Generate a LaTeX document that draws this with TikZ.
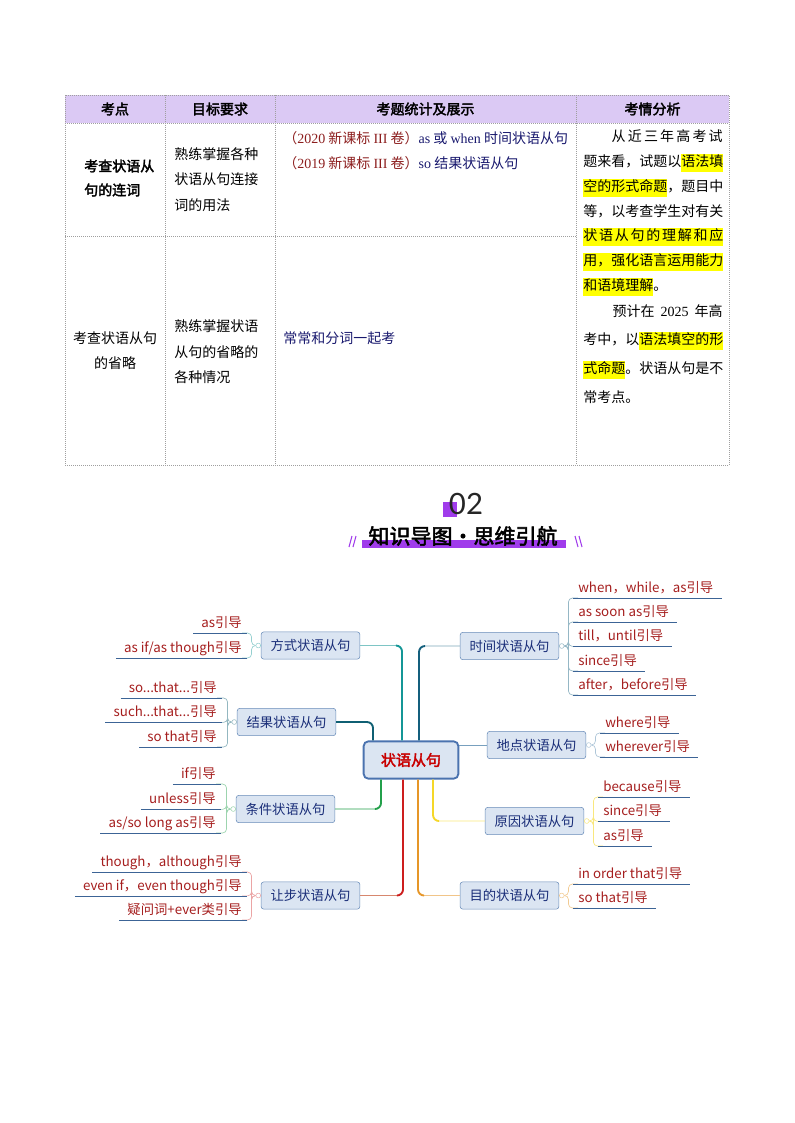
\documentclass[tikz,border=0pt]{standalone}
\usepackage{fontspec}
\setmainfont{Noto Sans CJK SC}[AutoFakeBold=2.5]
\newfontfamily\rmlat{Liberation Serif}
\newfontfamily\numfont{Lato}
\usetikzlibrary{calc, positioning}

\definecolor{hdrfill}{RGB}{219,201,244}
\definecolor{tred}{RGB}{140,30,30}
\definecolor{tnavy}{RGB}{25,25,110}
\definecolor{hlyellow}{RGB}{255,255,0}
\definecolor{violetbar}{RGB}{160,60,235}
\definecolor{nodefill}{RGB}{219,229,242}
\definecolor{nodeline}{RGB}{105,140,185}
\definecolor{rootline}{RGB}{75,115,175}
\definecolor{rootred}{RGB}{200,0,0}
\definecolor{nodetext}{RGB}{25,45,120}
\definecolor{leafred}{RGB}{165,30,30}
\definecolor{ulinecol}{RGB}{60,100,150}
\definecolor{cfs}{RGB}{20,150,150}
\definecolor{cjg}{RGB}{15,95,115}
\definecolor{csj}{RGB}{20,95,125}
\definecolor{cdd}{RGB}{120,160,190}
\definecolor{ctj}{RGB}{35,160,75}
\definecolor{crb}{RGB}{205,30,30}
\definecolor{cmd}{RGB}{230,150,40}
\definecolor{cyy}{RGB}{245,215,40}

\newcommand{\hl}[1]{{\setlength{\fboxsep}{0pt}\colorbox{hlyellow}{\strut #1}}}
\newcommand{\ldt}{...}

\begin{document}
\begin{tikzpicture}[x=0.75pt, y=-0.75pt,
    grid/.style={gray!75, densely dotted, line width=0.5pt},
    hdr/.style={inner sep=0pt, font=\bfseries\fontsize{10.5}{12}\selectfont},
    cell/.style={inner sep=0pt, anchor=west, font=\fontsize{10.5}{14}\selectfont},
    branch/.style={draw=nodeline, fill=nodefill, rounded corners=2pt, minimum width=74pt,
        minimum height=20.5pt, inner sep=0pt, text=nodetext, font=\fontsize{10}{12}\selectfont},
    rootbox/.style={draw=rootline, line width=1.4pt, fill=nodefill, rounded corners=3.5pt,
        minimum width=71pt, minimum height=28pt, text=rootred, font=\bfseries\fontsize{11.25}{13}\selectfont},
    knob/.style={circle, draw=#1, fill=white, inner sep=0pt, minimum size=3.6pt, line width=0.4pt},
    leafL/.style={anchor=south east, inner xsep=0pt, inner ysep=2pt, text=leafred,
        font=\fontsize{10}{12}\selectfont, text height=7.5pt, text depth=2pt},
    leafR/.style={leafL, anchor=south west},
    uline/.style={draw=ulinecol, line width=0.6pt},
    brace/.style={draw=#1, line width=0.5pt, rounded corners=3pt},
    trunk/.style={draw=#1, line width=1.4pt, rounded corners=4.5pt},
    twig/.style={draw=#1, line width=0.6pt, rounded corners=4.5pt}]

\useasboundingbox (0,0) rectangle (794,1123);

% ---------------- table ----------------
\fill[hdrfill] (65,95) rectangle (729,123);
\draw[grid] (65,95) rectangle (729,465);
\draw[grid] (65,123) -- (729,123);
\draw[grid] (65,236) -- (576,236);
\foreach \x in {165,275,576} \draw[grid] (\x,95) -- (\x,465);

\node[hdr] (h1) at (115,109) {考点};
\node[hdr] (h2) at (220,109) {目标要求};
\node[hdr] (h3) at (425.5,109) {考题统计及展示};
\node[hdr] (h4) at (652.5,109) {考情分析};

% row 1
\node[cell, align=left, font=\bfseries\fontsize{10.5}{18}\selectfont] (a1) at (84,178) {考查状语从\\句的连词};
\node[cell, align=left, font=\fontsize{10.5}{19}\selectfont] (b1) at (174,179.5) {熟练掌握各种\\状语从句连接\\词的用法};
\node[cell] (c1) at (283,138) {{\color{tred}（{\rmlat 2020} 新课标 {\rmlat III} 卷）}{\color{tnavy}{\rmlat as} 或 {\rmlat when} 时间状语从句}};
\node[cell] (c2) at (283,163) {{\color{tred}（{\rmlat 2019} 新课标 {\rmlat III} 卷）}{\color{tnavy}{\rmlat so} 结果状语从句}};

% row 2
\node[cell, anchor=center, align=center, font=\fontsize{10.5}{19}\selectfont] (a2) at (115,350.5) {考查状语从句\\的省略};
\node[cell, align=left, font=\fontsize{10.5}{19}\selectfont] (b2) at (174,352) {熟练掌握状语\\从句的省略的\\各种情况};
\node[cell, text=tnavy] (c3) at (283,338) {常常和分词一起考};

% analysis column
\node[cell, anchor=east] (d1) at (723,138) {\strut\makebox[83.25pt][s]{从\hfill 近\hfill 三\hfill 年\hfill 高\hfill 考\hfill 试}};
\node[cell] (d2) at (583,163) {\strut 题来看，试题以\hl{语法填}};
\node[cell] (d3) at (583,188) {\strut\hl{空的形式命题}，题目中};
\node[cell] (d4) at (583,213) {\strut 等，以考查学生对有关};
\node[cell] (d5) at (583,237) {\hl{\makebox[105pt][s]{状\hfill 语\hfill 从\hfill 句\hfill 的\hfill 理\hfill 解\hfill 和\hfill 应}}};
\node[cell] (d6) at (583,262) {\hl{用，强化语言运用能力}};
\node[cell] (d7) at (583,287) {\strut\hl{和语境理解}。};
\node[cell, anchor=east] (d8) at (723,313) {\strut\makebox[82.5pt][s]{预计在 {\rmlat 2025} 年高}};
\node[cell] (d9) at (583,341) {\strut 考中，以\hl{语法填空的形}};
\node[cell] (d10) at (583,370) {\strut\hl{式命题}。状语从句是不};
\node[cell] (d11) at (583,399) {\strut 常考点。};

% ---------------- title ----------------
\fill[violetbar] (443,502) rectangle (457,517);
\node[font=\numfont\fontsize{22}{24}\selectfont, text=black!85] (num) at (466,504) {02};
\fill[violetbar] (362,540) rectangle (566,548);
\node[font=\bfseries\fontsize{15.75}{18}\selectfont] (title) at (463,536) {知识导图·思维引航};
\draw[violetbar, line width=0.8pt] (349,547) -- (352,536) (353,547) -- (356,536);
\draw[violetbar, line width=0.8pt] (575,536) -- (578,547) (579,536) -- (582,547);

% ---------------- mind map ----------------
\node[rootbox] (root) at (411,760) {状语从句};

\node[branch] (fangshi) at (310.5,645.5) {方式状语从句};
\node[branch] (jieguo) at (286.5,722) {结果状语从句};
\node[branch] (tiaojian) at (285.5,809) {条件状语从句};
\node[branch] (rangbu) at (310.5,895.5) {让步状语从句};
\node[branch] (shijian) at (509.5,646) {时间状语从句};
\node[branch] (didian) at (536.5,745) {地点状语从句};
\node[branch] (yuanyin) at (534.5,821) {原因状语从句};
\node[branch] (mudi) at (509.5,895.5) {目的状语从句};

\node[knob=cfs!45, left=0pt of fangshi] (kfs) {};
\node[knob=cjg!45, left=0pt of jieguo] (kjg) {};
\node[knob=ctj!45, left=0pt of tiaojian] (ktj) {};
\node[knob=crb!40, left=0pt of rangbu] (krb) {};
\node[knob=csj!45, right=0pt of shijian] (ksj) {};
\node[knob=cdd!60, right=0pt of didian] (kdd) {};
\node[knob=cyy!60, right=0pt of yuanyin] (kyy) {};
\node[knob=cmd!50, right=0pt of mudi] (kmd) {};

% trunks out of the root
\coordinate (tjg) at ($(root.north)+(-38,0)$);
\coordinate (tfs) at ($(root.north)+(-9,0)$);
\coordinate (tsj) at ($(root.north)+(8,0)$);
\coordinate (ttj) at ($(root.south)+(-30,0)$);
\coordinate (trb) at ($(root.south)+(-8,0)$);
\coordinate (tmd) at ($(root.south)+(7,0)$);
\coordinate (tyy) at ($(root.south)+(22,0)$);

\draw[trunk=cjg] (tjg) |- (jieguo.east);
\draw[twig=cfs!55] (tfs) |- (fangshi.east);
\draw[trunk=cfs] (tfs) |- ($(fangshi.east)+(36,0)$);
\draw[twig=csj!55] (tsj) |- (shijian.west);
\draw[trunk=csj] (tsj) |- ($(shijian.west)+(-35,0)$);
\draw[twig=cdd] (root.east |- didian.west) -- (didian.west);
\draw[twig=ctj] (ttj) |- (tiaojian.east);
\draw[trunk=ctj] (ttj) |- ($(tiaojian.east)+(40,0)$);
\draw[twig=crb!45!brown!70] (trb) |- (rangbu.east);
\draw[trunk=crb] (trb) |- ($(rangbu.east)+(37,0)$);
\draw[twig=cmd!55] (tmd) |- (mudi.west);
\draw[trunk=cmd] (tmd) |- ($(mudi.west)+(-36,0)$);
\draw[twig=cyy!60] (tyy) |- (yuanyin.west);
\draw[trunk=cyy] (tyy) |- ($(yuanyin.west)+(-46,0)$);

% leaves, left side
\foreach \txt/\uy [count=\i] in {as引导/633,{as if/as though引导}/658}{
  \node[leafL] (fs\i) at (242,\uy) {\txt};
  \draw[brace=cfs!45] (kfs.west) -- ++(-4,0) |- (fs\i.south east);
  \draw[uline] ([xshift=-6pt]fs\i.south west) -- ([xshift=3.5pt]fs\i.south east);
}
\foreach \txt/\uy [count=\i] in {so\ldt that\ldt 引导/698,such\ldt that\ldt 引导/722.4,so that引导/747}{
  \node[leafL] (jg\i) at (217,\uy) {\txt};
  \draw[brace=cjg!45] (kjg.west) -- ++(-4,0) |- (jg\i.south east);
  \draw[uline] ([xshift=-6pt]jg\i.south west) -- ([xshift=3.5pt]jg\i.south east);
}
\foreach \txt/\uy [count=\i] in {if引导/784,unless引导/809.4,{as/so long as引导}/833}{
  \node[leafL] (tj\i) at (216,\uy) {\txt};
  \draw[brace=ctj!45] (ktj.west) -- ++(-4,0) |- (tj\i.south east);
  \draw[uline] ([xshift=-6pt]tj\i.south west) -- ([xshift=3.5pt]tj\i.south east);
}
\foreach \txt/\uy [count=\i] in {though，although引导/872,even if，even though引导/895.9,疑问词+ever类引导/920}{
  \node[leafL] (rb\i) at (242,\uy) {\txt};
  \draw[brace=crb!40] (krb.west) -- ++(-4,0) |- (rb\i.south east);
  \draw[uline] ([xshift=-6pt]rb\i.south west) -- ([xshift=3.5pt]rb\i.south east);
}

% leaves, right side
\foreach \txt/\uy [count=\i] in {when，while，as引导/598,as soon as引导/622,till，until引导/646.4,since引导/671,after，before引导/695}{
  \node[leafR] (sj\i) at (578,\uy) {\txt};
  \draw[brace=csj!45] (ksj.east) -- ++(4,0) |- (sj\i.south west);
  \draw[uline] ([xshift=-3.5pt]sj\i.south west) -- ([xshift=6pt]sj\i.south east);
}
\foreach \txt/\uy [count=\i] in {where引导/733,wherever引导/757}{
  \node[leafR] (dd\i) at (605,\uy) {\txt};
  \draw[brace=cdd!60] (kdd.east) -- ++(4,0) |- (dd\i.south west);
  \draw[uline] ([xshift=-3.5pt]dd\i.south west) -- ([xshift=6pt]dd\i.south east);
}
\foreach \txt/\uy [count=\i] in {because引导/797,since引导/821.4,as引导/846}{
  \node[leafR] (yy\i) at (603,\uy) {\txt};
  \draw[brace=cyy!60] (kyy.east) -- ++(4,0) |- (yy\i.south west);
  \draw[uline] ([xshift=-3.5pt]yy\i.south west) -- ([xshift=6pt]yy\i.south east);
}
\foreach \txt/\uy [count=\i] in {in order that引导/884,so that引导/908}{
  \node[leafR] (md\i) at (578,\uy) {\txt};
  \draw[brace=cmd!50] (kmd.east) -- ++(4,0) |- (md\i.south west);
  \draw[uline] ([xshift=-3.5pt]md\i.south west) -- ([xshift=6pt]md\i.south east);
}

\end{tikzpicture}
\end{document}
